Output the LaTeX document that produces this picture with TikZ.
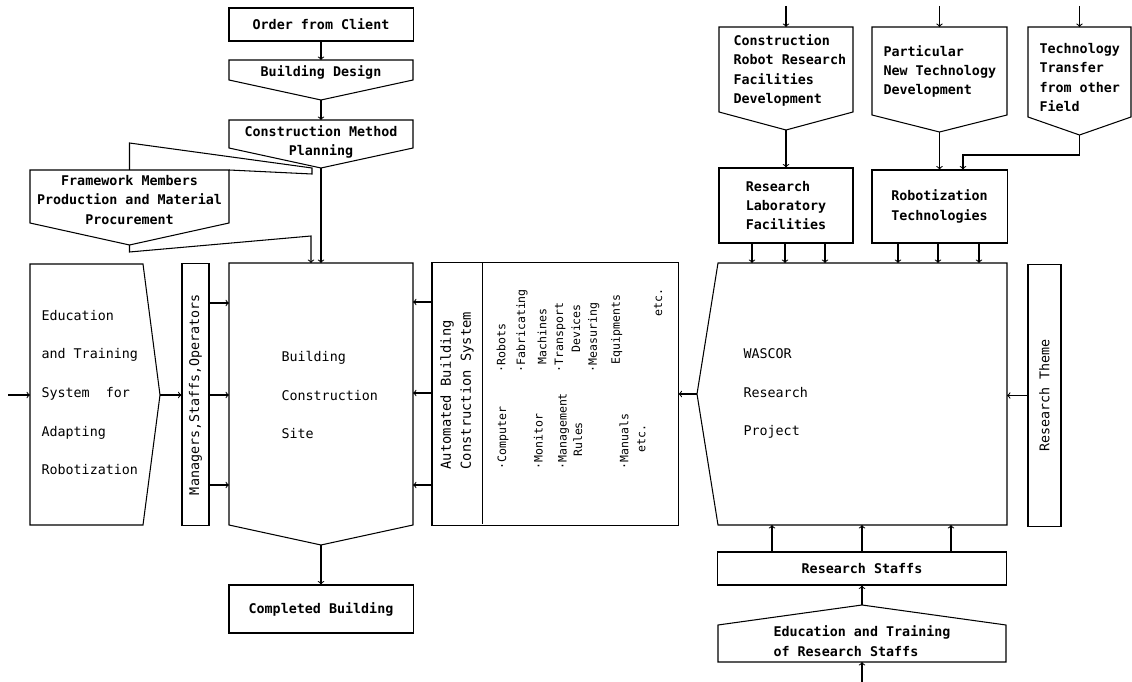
\documentclass[tikz,border=0pt]{standalone}
\usepackage{fontspec}
\newfontfamily\monofont{DejaVu Sans Mono}
\newcommand{\plainfont}{\monofont\fontsize{9.5}{13.8}\selectfont}
\newcommand{\boldfont}{\monofont\bfseries\fontsize{9.5}{13.8}\selectfont}
\newcommand{\widefont}{\monofont\fontsize{9.5}{27.5}\selectfont}
\newcommand{\titlefont}{\monofont\fontsize{9.8}{14.2}\selectfont}
\newcommand{\itemfont}{\monofont\fontsize{8.2}{12}\selectfont}

\begin{document}
\begin{tikzpicture}[x=0.025cm, y=-0.025cm, line width=0.75pt,
% node styles
box/.style={draw, inner sep=0pt, font=\boldfont, align=center},
txt/.style={inner sep=0pt, font=\boldfont, align=left},
spread/.style={inner sep=0pt, font=\widefont, align=left},
vtxt/.style={inner sep=0pt, rotate=90, align=left}
]
\useasboundingbox (0,0) rectangle (1132,682);

% left column: client to site
\node[box, minimum width=4.6cm, minimum height=0.825cm] (order) at (321,24.5) {Order from Client};

\coordinate (design_top) at (321,60);
\coordinate (design_tip) at (321,100);
\draw (229,60) -- (413,60) -- (413,80) -- (design_tip) -- (229,80) -- cycle;
\node[txt] (design) at (321,72) {Building Design};

\coordinate (plan_top) at (321,120);
\coordinate (plan_tip) at (321,168);
\draw (229,120) -- (413,120) -- (413,148) -- (plan_tip) -- (229,148) -- cycle;
\node[box, draw=none] (plan) at (321,142) {Construction Method\\Planning};

% framework members with its two flaps
\coordinate (fw_tip) at (129.5,245);
\coordinate (flap_end) at (311,236);
\draw (30,170) -- (229,170) -- (229,223) -- (fw_tip) -- (30,223) -- cycle;
\draw (129.5,170) -- (129.5,143) -- (312,168) -- (312,174) -- (229,170);
\node[box, draw=none] (frame) at (129.5,200) {Framework Members\\Production and Material\\Procurement};

% building site
\coordinate (site_nw) at (229,263);
\coordinate (site_ne) at (413,263);
\coordinate (site_top) at (321,263);
\coordinate (site_tip) at (321,545);
\draw (site_nw) -- (site_ne) -- (413,525) -- (site_tip) -- (229,525) -- cycle;
\node[spread, anchor=west] (site) at (281,395) {Building\\Construction\\Site};

\node[box, minimum width=4.6cm, minimum height=1.2cm] (completed) at (321,609) {Completed Building};

% education and staff
\coordinate (edu_in) at (8,395);
\coordinate (edu_w) at (30,395);
\coordinate (edu_tip) at (160,395);
\draw (30,264) -- (143,264) -- (edu_tip) -- (143,525) -- (30,525) -- cycle;
\node[spread, anchor=west] (edu) at (41,392.5) {Education\\and Training\\System~~for\\Adapting\\Robotization};

\node[box, font=\plainfont, rotate=90, minimum width=6.525cm, minimum height=0.675cm] (managers) at (195.5,394.5) {Managers,Staffs,Operators};

% automated system
\node[draw, minimum width=6.15cm, minimum height=6.55cm] (auto) at (555,394) {};
\draw (auto.north west) ++(51,0) -- ++(0,262);
\node[vtxt, font=\titlefont, anchor=west] (autotitle) at (457,470) {Automated Building\\Construction System};
\node[vtxt, font=\itemfont, anchor=west] (tools) at (571.5,470) {·Computer\\[14pt]
·Monitor\\[5pt]
·Management\\[-1pt]
\hspace*{9pt}Rules\\[21pt]
·Manuals\\
\hspace*{12pt}etc.};
\node[vtxt, font=\itemfont, anchor=west] (devices) at (579.5,373) {·Robots\\[2pt]
·Fabricating\\[3pt]
\hspace*{5.7pt}Machines\\
·Transport\\
\hspace*{14pt}Devices\\
·Measuring\\[4.4pt]
\hspace*{5.7pt}Equipments\\[18pt]
\hspace*{40pt}etc.};

% right column: research
\coordinate (crr_in) at (786,6);
\coordinate (crr_top) at (786,27);
\coordinate (crr_tip) at (786,130);
\draw (719,27) -- (853,27) -- (853,112) -- (crr_tip) -- (719,112) -- cycle;
\node[txt, anchor=west] (crr) at (733,70.5) {Construction\\Robot Research\\Facilities\\Development};

\coordinate (pnt_in) at (939.5,6);
\coordinate (pnt_top) at (939.5,27);
\coordinate (pnt_tip) at (939.5,132);
\draw (872,27) -- (1007,27) -- (1007,115) -- (pnt_tip) -- (872,115) -- cycle;
\node[txt, anchor=west] (pnt) at (883,71.5) {Particular\\New Technology\\Development};

\coordinate (ttf_in) at (1079.5,6);
\coordinate (ttf_top) at (1079.5,27);
\coordinate (ttf_tip) at (1079.5,135);
\draw (1028,27) -- (1131,27) -- (1131,117) -- (ttf_tip) -- (1028,117) -- cycle;
\node[txt, anchor=west] (ttf) at (1039,77.5) {Technology\\Transfer\\from other\\Field};

\node[box, align=left, minimum width=3.35cm, minimum height=1.875cm] (lab) at (786,205.5) {Research\\Laboratory\\Facilities};
\node[box, align=left, minimum width=3.375cm, minimum height=1.825cm] (robot) at (939.5,206.5) {Robotization\\Technologies};

\coordinate (wascor_ne) at (1007,263);
\coordinate (wascor_sw) at (718,525);
\coordinate (wascor_tip) at (697,394);
\draw (718,263) -- (wascor_ne) -- (1007,525) -- (wascor_sw) -- (wascor_tip) -- cycle;
\node[spread, anchor=west] (wascor) at (743,393.5) {WASCOR\\Research\\Project};

\node[box, font=\plainfont, rotate=90, minimum width=6.525cm, minimum height=0.825cm] (theme) at (1044.5,395.5) {Research Theme};

\node[box, minimum width=7.2cm, minimum height=0.825cm] (staffs) at (862,568.5) {Research Staffs};

\coordinate (es_tip) at (862,605);
\coordinate (es_bot) at (862,662);
\coordinate (es_in) at (862,682);
\draw (718,662) -- (1006,662) -- (1006,625) -- (es_tip) -- (718,625) -- cycle;
\node[txt, anchor=west] (edustaff) at (773,641) {Education and Training\\of Research Staffs};

% draw arrows between nodes
\draw[->] (order.south) -- (design_top);
\draw[->] (design_tip) -- (plan_top);
\draw[->] (plan_tip) -- (site_top);
\draw[->] (fw_tip) -- ++(0,7) -- (flap_end) -- (flap_end |- site_nw);
\draw[->] (site_tip) -- (completed.north);
\draw[->] (edu_in) -- (edu_w);
\draw[->] (edu_tip) -- (edu_tip -| managers.north);
\foreach \y in {303,395,485}
  \draw[->] (managers.south |- 0,\y) -- (site_nw |- 0,\y);
\foreach \y in {302,393,485}
  \draw[->] (auto.west |- 0,\y) -- (site_ne |- 0,\y);
\draw[->] (wascor_tip) -- (wascor_tip -| auto.east);
\draw[->] (theme.north) -- (theme.north -| wascor_ne);

\draw[->] (crr_in) -- (crr_top);
\draw[->] (crr_tip) -- (lab.north);
\draw[->] (pnt_in) -- (pnt_top);
\draw[->] (pnt_tip) -- (robot.north);
\draw[->] (ttf_in) -- (ttf_top);
\draw[->] (ttf_tip) -- (ttf_tip |- 0,155) -| ([xshift=0.5875cm]robot.north);
\foreach \x in {752,785,825}
  \draw[->] (lab.south -| \x,0) -- (wascor_ne -| \x,0);
\foreach \x in {898,938,979}
  \draw[->] (robot.south -| \x,0) -- (wascor_ne -| \x,0);
\foreach \x in {772,862,951}
  \draw[->] (staffs.north -| \x,0) -- (wascor_sw -| \x,0);
\draw[->] (es_tip) -- (staffs.south);
\draw[->] (es_in) -- (es_bot);

\end{tikzpicture}
\end{document}
